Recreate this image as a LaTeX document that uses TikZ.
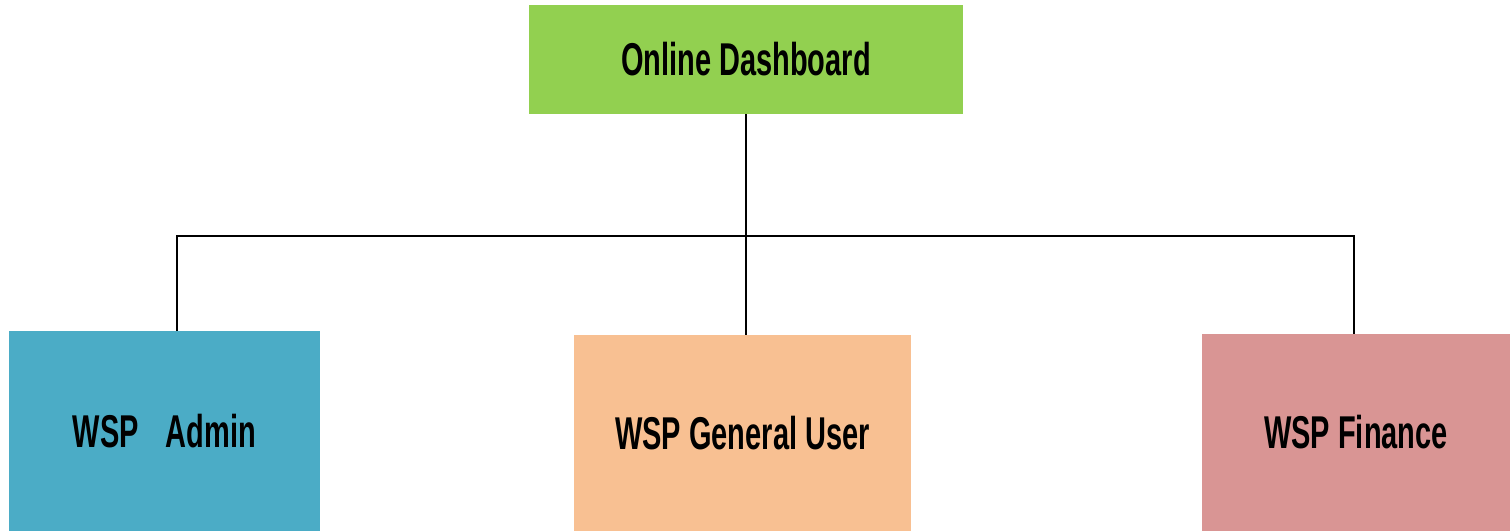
\documentclass[tikz,border=0pt]{standalone}
\usepackage{fontspec}
\newfontfamily\agency[FakeStretch=0.63]{Liberation Sans}
\definecolor{topgreen}{HTML}{92D050}
\definecolor{adminblue}{HTML}{4BACC6}
\definecolor{userorange}{HTML}{F8C092}
\definecolor{finpink}{HTML}{D99594}
\begin{document}
\begin{tikzpicture}[x=1pt,y=-1pt,
  box/.style={rectangle, draw=none, inner sep=0pt, font=\agency\bfseries\fontsize{46}{50}\selectfont, text=black},
  conn/.style={draw=black, line width=2pt}]
\useasboundingbox (0,0) rectangle (1510,531);
\node[box, fill=topgreen, minimum width=434pt, minimum height=109pt] (top) at (746,59.5) {Online Dashboard};
\node[box, fill=adminblue, minimum width=311pt, minimum height=200pt] (admin) at (164.5,431) {WSP\hspace{27pt}Admin};
\node[box, fill=userorange, minimum width=337pt, minimum height=196pt] (user) at (742.5,433) {WSP General User};
\node[box, fill=finpink, minimum width=308pt, minimum height=197pt] (fin) at (1356,432.5) {WSP Finance};
\coordinate (busL) at (177,236);
\coordinate (busR) at (1354,236);
\draw[conn] (top.south -| 746,0) -- (746,236);
\draw[conn, line cap=rect] (busL) -- (busR);
\draw[conn] (busL) -- (busL |- admin.north);
\draw[conn] (746,236) -- (746,0 |- user.north);
\draw[conn] (busR) -- (busR |- fin.north);
\end{tikzpicture}
\end{document}
